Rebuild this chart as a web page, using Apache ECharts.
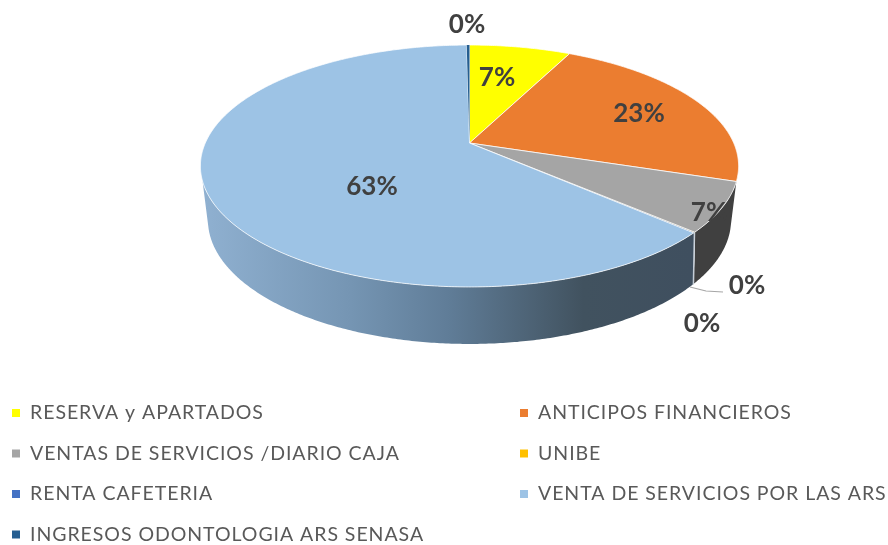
<!DOCTYPE html>
<html><head><meta charset="utf-8">
<style>html,body{margin:0;padding:0;background:#fff}#c{width:888px;height:545px}</style>
<script src="https://cdn.jsdelivr.net/npm/echarts@6/dist/echarts.min.js"></script>
</head><body><div id="c"></div>
<script>
const categories = ['RESERVA y APARTADOS','ANTICIPOS FINANCIEROS','VENTAS DE SERVICIOS /DIARIO CAJA','UNIBE','RENTA CAFETERIA','VENTA DE SERVICIOS POR LAS ARS','INGRESOS ODONTOLOGIA ARS SENASA'];
const values = [7.3,22.7,6.6,0.05,0.05,63,0.2];
const colors = ['#FFFF00','#EB7D30','#A5A5A5','#FFC000','#4472C4','#9DC3E5','#255E91'];

// The legend of the reference is widely tracked; the canvas supports that directly.
const plainFill=CanvasRenderingContext2D.prototype.fillText;
CanvasRenderingContext2D.prototype.fillText=function(){
  this.letterSpacing=/bold|700/.test(this.font)?'0px':'0.95px';
  return plainFill.apply(this,arguments);
};

// Pie geometry (projected disc, seen in perspective)
const CX=469.5, CY=143, RX=264.2, RY=116.6, K=0.19;
const BOT={sx:0.972, sy:1.025, cy:196.4, f:1.04};
const total=values.reduce((a,b)=>a+b,0);
const starts=[]; values.reduce((a,v,i)=>{starts[i]=a;return a+v;},0);
const deg=v=>v/total*360;
function topRim(t){const r=t*Math.PI/180,u=Math.sin(r),v=Math.cos(r),w=1+K*v;return [CX+RX*u/w,CY-RY*v/w];}
function bottomRim(t){const a=(180+(t-180)*BOT.f)*Math.PI/180,u=Math.sin(a),v=Math.cos(a),w=1+K*v;
  return [CX+BOT.sx*RX*u/w,BOT.cy-BOT.sy*RY*v/w];}
function arc(fn,a,b){const n=Math.max(2,Math.ceil(Math.abs(b-a)/0.5)),p=[];for(let i=0;i<=n;i++)p.push(fn(a+(b-a)*i/n));return p;}

const sideStyle=[null,null,'#404040','#d5dbe2','#c3ccd6',
  new echarts.graphic.LinearGradient(205,0,690,0,[
    {offset:0,color:'#8FB0D0'},{offset:.3,color:'#7595B3'},{offset:.5,color:'#607D98'},
    {offset:.78,color:'#41525F'},{offset:1,color:'#3F4F5F'}],true),null];
const sideRange=[null,null,null,null,null,252,null];
const labelAt=[[497,78],[639,114],[709,213],[747,286],[702,324],[372,187],[467,25]];

function render(i){
  return function(params,api){
    const val=api.value(0), a=deg(starts[i]), b=a+deg(val), ch=[];
    if(sideStyle[i]){
      const e=sideRange[i]||b;
      ch.push({type:'polygon',z2:1,silent:true,
        shape:{points:arc(topRim,a,e).concat(arc(bottomRim,e,a))},
        style:{fill:sideStyle[i],stroke:val<1?sideStyle[i]:null,lineWidth:val<1?1:0}});
    }
    ch.push({type:'polygon',z2:val<0.15?3:5,
      shape:{points:[[CX,CY]].concat(arc(topRim,a,b))},
      style:{fill:colors[i],stroke:'rgba(255,255,255,0.75)',lineWidth:val<1?0:1}});
    ch.push({type:'text',z2:10,x:labelAt[i][0],y:labelAt[i][1],
      style:{text:Math.round(val)+'%',fontFamily:'Lato, sans-serif',fontWeight:'bold',fontSize:26,fill:'#404040',align:'center',verticalAlign:'middle'}});
    if(i===3) ch.push({type:'polyline',z2:9,silent:true,
      shape:{points:[[690,287],[706,291],[723,292]]},style:{stroke:'#A6A6A6',lineWidth:1.2,fill:null}});
    return {type:'group',children:ch};
  };
}
const legendText={color:'#595959',fontSize:19.5,fontFamily:'Lato, sans-serif',padding:[0,0,0,5]};
const legendBase={orient:'vertical',icon:'rect',itemWidth:8,itemHeight:8,itemGap:20.5,padding:0,height:200,selectedMode:false,textStyle:legendText};
const chart=echarts.init(document.getElementById('c'));
chart.setOption({
  animation:false,backgroundColor:'#fff',
  legend:[
    Object.assign({},legendBase,{left:12,top:403,data:[categories[0],categories[2],categories[4],categories[6]]}),
    Object.assign({},legendBase,{left:520,top:403,data:[categories[1],categories[3],categories[5]]})
  ],
  series:categories.map((name,i)=>({
    type:'custom',name,coordinateSystem:'none',data:[[values[i]]],
    itemStyle:{color:colors[i]},renderItem:render(i)
  }))
});
</script></body></html>
